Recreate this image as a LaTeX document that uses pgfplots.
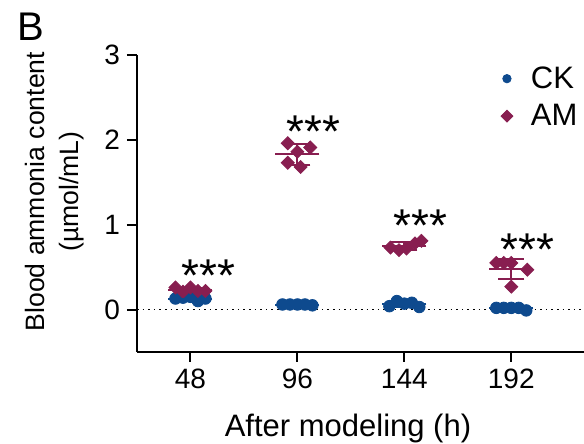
\documentclass[border=0pt]{standalone}
\usepackage{pgfplots}
\pgfplotsset{compat=1.18}
\usepackage{fontspec}
\setmainfont{Liberation Sans}
\definecolor{ckblue}{RGB}{14,74,142}
\definecolor{amred}{RGB}{136,30,80}

\begin{document}
\begin{tikzpicture}
\begin{axis}[
  name=ax,
  scale only axis,
  width=223.5pt, height=148.5pt,
  xmin=-0.5, xmax=3.68,
  ymin=-0.5, ymax=3,
  axis x line=bottom, axis y line=left,
  axis line style={-, line width=1pt},
  tick align=outside,
  major tick length=5pt,
  tick style={line width=1pt, black},
  xtick={0,1,2,3},
  xticklabels={48,96,144,192},
  ytick={0,1,2,3},
  /pgf/number format/assume math mode=true,
  tick label style={font=\fontsize{14}{16}\selectfont},
  xlabel={After modeling (h)},
  xlabel style={font=\fontsize{15.5}{18}\selectfont, at={(axis description cs:0.472,0)}, anchor=center, yshift=-38pt},
  ylabel={Blood ammonia content\\(\textmu mol/mL)},
  ylabel style={font=\fontsize{13.3}{17}\selectfont, align=center, at={(axis description cs:-0.102,0.54)}, anchor=south},
  legend style={draw=none, fill=none, at={(axis description cs:0.80,0.99)}, anchor=north west,
    font=\fontsize{15.5}{18}\selectfont, row sep=2.5pt,
    /tikz/every odd column/.append style={column sep=7pt}},
  legend image post style={mark size=2.1pt},
  legend cell align=left,
  clip=false,
]
% zero reference line
\addplot[forget plot, dotted, line width=0.8pt, black] coordinates {(-0.5,0) (3.68,0)};

% individual values
\addplot[only marks, mark=*, mark size=2.9pt, color=ckblue] coordinates {
  (-0.14,0.13) (-0.07,0.14) (0,0.15) (0.07,0.10) (0.14,0.13)
  (0.86,0.06) (0.93,0.06) (1,0.06) (1.07,0.06) (1.14,0.05)
  (1.86,0.04) (1.93,0.10) (2,0.07) (2.07,0.08) (2.14,0.03)
  (2.86,0.02) (2.93,0.02) (3,0.02) (3.07,0.02) (3.14,-0.01)
};
\addlegendentry{CK}
\addplot[only marks, mark=square*, mark size=2.3pt, mark options={rotate=45}, color=amred] coordinates {
  (-0.14,0.26) (-0.07,0.21) (0,0.26) (0.07,0.22) (0.14,0.22)
  (0.91,1.96) (1,1.86) (1.12,1.91) (0.91,1.73) (1.03,1.68)
  (1.87,0.73) (1.95,0.70) (2.02,0.72) (2.10,0.78) (2.16,0.81)
  (2.86,0.55) (2.93,0.55) (3,0.55) (3,0.27) (3.15,0.47)
};
\addlegendentry{AM}

% mean +- SD
\addplot[forget plot, only marks, mark=-, mark size=11pt, color=ckblue, mark options={line width=1pt},
  error bars/.cd, y dir=both, y explicit, error mark=|,
  error mark options={mark size=6.5pt, line width=1pt, ckblue},
  error bar style={line width=1pt, ckblue}] coordinates {
  (0,0.130) +- (0,0.019)
  (1,0.058) +- (0,0.004)
  (2,0.064) +- (0,0.028)
  (3,0.014) +- (0,0.013)
};
\addplot[forget plot, only marks, mark=-, mark size=11pt, color=amred, mark options={line width=1pt},
  error bars/.cd, y dir=both, y explicit, error mark=|,
  error mark options={mark size=6.5pt, line width=1pt, amred},
  error bar style={line width=1pt, amred}] coordinates {
  (0,0.234) +- (0,0.024)
  (1,1.828) +- (0,0.120)
  (2,0.748) +- (0,0.046)
  (3,0.478) +- (0,0.120)
};

% significance marks
\node[font=\fontsize{23}{26}\selectfont] at (axis cs:0.17,0.40) {***};
\node[font=\fontsize{23}{26}\selectfont] at (axis cs:1.15,2.10) {***};
\node[font=\fontsize{23}{26}\selectfont] at (axis cs:2.15,0.99) {***};
\node[font=\fontsize{23}{26}\selectfont] at (axis cs:3.15,0.70) {***};
\end{axis}
\node[font=\fontsize{20}{22}\selectfont] at ([xshift=-53pt,yshift=14pt]ax.north west) {B};
\pgfresetboundingbox
\path ([xshift=-68.5pt,yshift=-46pt]ax.south west) rectangle ([yshift=27.5pt]ax.north east);
\end{tikzpicture}
\end{document}
